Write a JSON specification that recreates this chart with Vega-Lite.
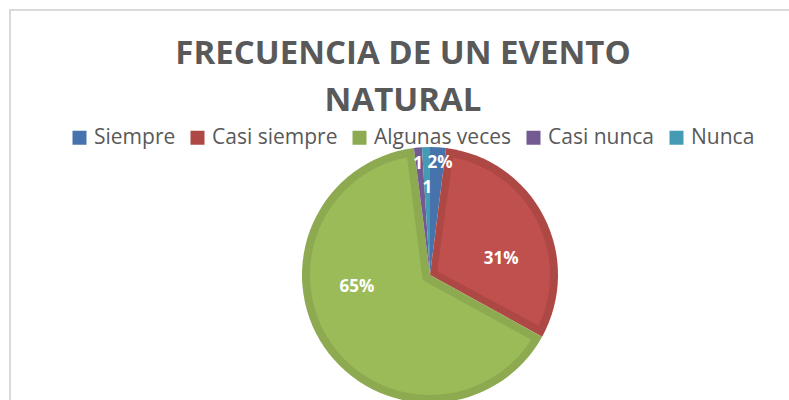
{
  "$schema": "https://vega.github.io/schema/vega-lite/v6.json",
  "autosize": "none",
  "width": 840,
  "height": 530,
  "padding": {"left": 10, "top": 10, "right": 0, "bottom": 0},
  "background": "white",
  "view": {"stroke": "#d9d9d9", "strokeWidth": 2, "fill": "white"},
  "config": {
    "view": {"stroke": "#d9d9d9", "strokeWidth": 2},
    "font": "Open Sans"
  },
  "title": {
    "text": ["FRECUENCIA DE UN EVENTO", "NATURAL"],
    "font": "Open Sans",
    "fontSize": 33,
    "fontWeight": "bold",
    "color": "#595959",
    "lineHeight": 47,
    "anchor": "middle",
    "frame": "group",
    "orient": "top",
    "offset": 0,
    "dx": -27,
    "dy": 108
  },
  "data": {
    "values": [
      {"categoria": "Siempre", "valor": 2, "etiqueta": "2%", "orden": 1},
      {"categoria": "Casi siempre", "valor": 31, "etiqueta": "31%", "orden": 2},
      {"categoria": "Algunas veces", "valor": 65, "etiqueta": "65%", "orden": 3},
      {"categoria": "Casi nunca", "valor": 1, "etiqueta": "1", "orden": 4},
      {"categoria": "Nunca", "valor": 1, "etiqueta": "1", "orden": 5}
    ]
  },
  "layer": [
    {
      "mark": {"type": "arc", "outerRadius": 128, "innerRadius": 0},
      "encoding": {
        "theta": {"field": "valor", "type": "quantitative", "stack": true},
        "order": {"field": "orden", "type": "quantitative"},
        "color": {
          "field": "categoria",
          "type": "nominal",
          "sort": ["Siempre", "Casi siempre", "Algunas veces", "Casi nunca", "Nunca"],
          "scale": {
            "domain": ["Siempre", "Casi siempre", "Algunas veces", "Casi nunca", "Nunca"],
            "range": ["#4773AD", "#AE4845", "#8DAA50", "#735A93", "#449BB3"]
          },
          "legend": {
            "orient": "none",
            "legendX": 59,
            "legendY": 117,
            "direction": "horizontal",
            "title": null,
            "symbolType": "square",
            "symbolSize": 196,
            "symbolStrokeWidth": 0,
            "labelFont": "Open Sans",
            "labelFontSize": 21,
            "labelColor": "#595959",
            "labelOffset": 4,
            "columnPadding": 11,
            "padding": 0
          }
        }
      }
    },
    {
      "mark": {"type": "arc", "outerRadius": 120, "innerRadius": 8, "padAngle": 0.133},
      "encoding": {
        "theta": {"field": "valor", "type": "quantitative", "stack": true},
        "order": {"field": "orden", "type": "quantitative"},
        "color": {
          "field": "categoria",
          "type": "nominal",
          "scale": {
            "domain": ["Siempre", "Casi siempre", "Algunas veces", "Casi nunca", "Nunca"],
            "range": ["#4F81BD", "#C0504D", "#9BBB59", "#8064A2", "#4BACC6"]
          },
          "legend": null
        }
      }
    },
    {
      "mark": {"type": "text", "radius": 112, "thetaOffset": 0.026, "font": "Open Sans", "fontSize": 17, "fontWeight": "bold", "fill": "white", "align": "center", "baseline": "middle"},
      "encoding": {
        "theta": {"field": "valor", "type": "quantitative", "stack": true},
        "order": {"field": "orden", "type": "quantitative"},
        "detail": {"field": "categoria"},
        "text": {"condition": {"test": "datum.categoria === 'Siempre'", "field": "etiqueta"}, "value": ""}
      }
    },
    {
      "mark": {"type": "text", "radius": 73, "thetaOffset": 0.244, "font": "Open Sans", "fontSize": 17, "fontWeight": "bold", "fill": "white", "align": "center", "baseline": "middle"},
      "encoding": {
        "theta": {"field": "valor", "type": "quantitative", "stack": true},
        "order": {"field": "orden", "type": "quantitative"},
        "detail": {"field": "categoria"},
        "text": {"condition": {"test": "datum.categoria === 'Casi siempre'", "field": "etiqueta"}, "value": ""}
      }
    },
    {
      "mark": {"type": "text", "radius": 74, "thetaOffset": 0.435, "font": "Open Sans", "fontSize": 17, "fontWeight": "bold", "fill": "white", "align": "center", "baseline": "middle"},
      "encoding": {
        "theta": {"field": "valor", "type": "quantitative", "stack": true},
        "order": {"field": "orden", "type": "quantitative"},
        "detail": {"field": "categoria"},
        "text": {"condition": {"test": "datum.categoria === 'Algunas veces'", "field": "etiqueta"}, "value": ""}
      }
    },
    {
      "mark": {"type": "text", "radius": 112, "thetaOffset": -0.012, "font": "Open Sans", "fontSize": 17, "fontWeight": "bold", "fill": "white", "align": "center", "baseline": "middle"},
      "encoding": {
        "theta": {"field": "valor", "type": "quantitative", "stack": true},
        "order": {"field": "orden", "type": "quantitative"},
        "detail": {"field": "categoria"},
        "text": {"condition": {"test": "datum.categoria === 'Casi nunca'", "field": "etiqueta"}, "value": ""}
      }
    },
    {
      "mark": {"type": "text", "radius": 87, "font": "Open Sans", "fontSize": 17, "fontWeight": "bold", "fill": "white", "align": "center", "baseline": "middle"},
      "encoding": {
        "theta": {"field": "valor", "type": "quantitative", "stack": true},
        "order": {"field": "orden", "type": "quantitative"},
        "detail": {"field": "categoria"},
        "text": {"condition": {"test": "datum.categoria === 'Nunca'", "field": "etiqueta"}, "value": ""}
      }
    }
  ],
  "resolve": {"scale": {"color": "independent"}}
}
